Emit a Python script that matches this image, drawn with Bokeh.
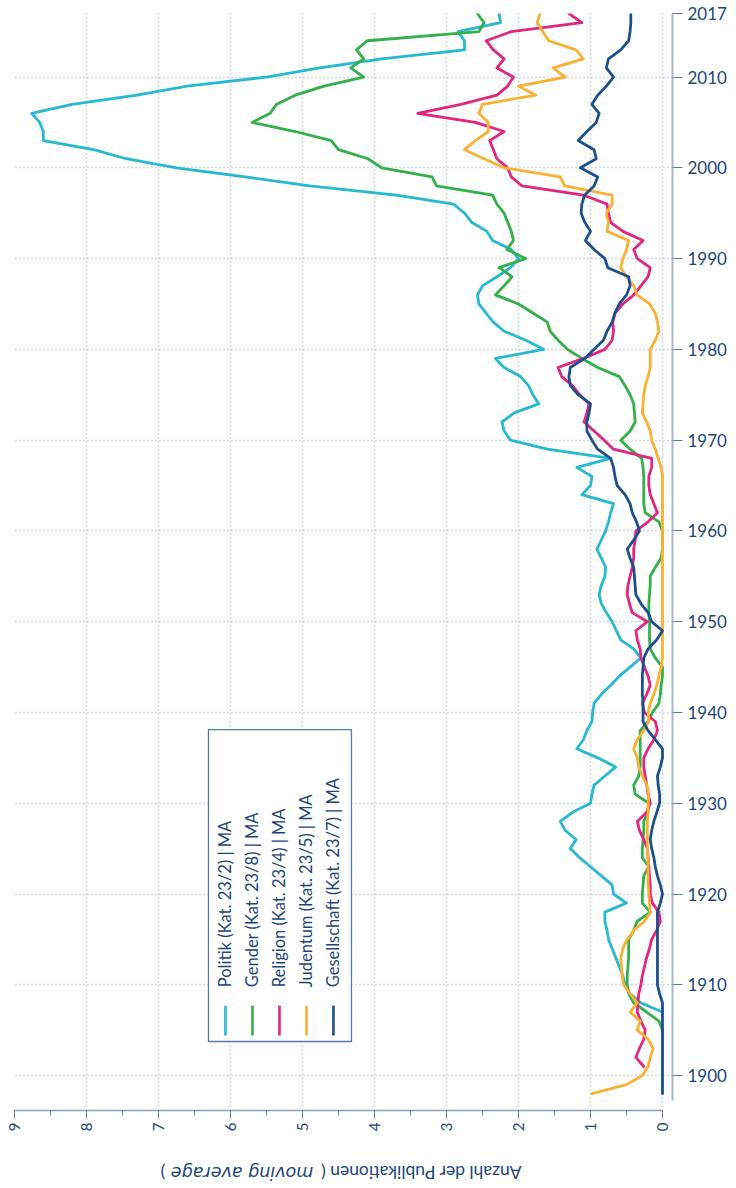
from math import pi
from bokeh.plotting import figure
from bokeh.layouts import column
from bokeh.models import Range1d, FixedTicker, SingleIntervalTicker, Label, ColumnDataSource
from bokeh.core.properties import value
from bokeh.embed import file_html
from bokeh.resources import INLINE

# ---------------- data (yearly moving averages) ----------------
series_names = [
    "Politik (Kat. 23/2) | MA",
    "Gender (Kat. 23/8) | MA",
    "Religion (Kat. 23/4) | MA",
    "Judentum (Kat. 23/5) | MA",
    "Gesellschaft (Kat. 23/7) | MA",
]
series_colors = ["#26b9d1", "#33b04a", "#e2267f", "#fbb034", "#1d4f8c"]
series_start = [1907, 1905, 1901, 1898, 1898]

politik = [
    0.0, 0.3, 0.45,
    0.52, 0.55, 0.6, 0.65, 0.7, 0.75, 0.77, 0.8, 0.8, 0.5,
    0.68, 0.7, 0.85, 1.0, 1.15, 1.28, 1.2, 1.35, 1.42, 1.25,
    1.0, 0.98, 0.95, 0.8, 0.65, 0.9, 1.19, 1.1, 1.05, 0.98,
    0.97, 0.95, 0.85, 0.72, 0.6, 0.45, 0.3, 0.4, 0.58, 0.64,
    0.7, 0.78, 0.85, 0.88, 0.85, 0.8, 0.79, 0.85, 0.91, 0.85,
    0.79, 0.75, 0.72, 0.68, 1.12, 1.0, 0.98, 1.19, 0.72, 1.6,
    2.11, 2.2, 2.23, 2.06, 1.72, 1.8, 1.86, 1.97, 2.2, 2.32,
    1.65, 1.9, 2.2, 2.35, 2.45, 2.55, 2.57, 2.5, 2.3, 2.11,
    2.0, 2.1, 2.36, 2.44, 2.65, 2.75, 2.9, 3.7, 4.9, 5.8,
    6.75, 7.45, 7.9, 8.6, 8.6, 8.65, 8.76, 8.2, 7.3, 6.6,
    5.5, 4.76, 3.9, 2.75, 2.75, 2.84, 2.25, 2.27,
]
gender = [
    0.0, 0.05, 0.22, 0.4, 0.47,
    0.49, 0.49, 0.48, 0.47, 0.47, 0.47, 0.4, 0.35, 0.17, 0.28,
    0.28, 0.27, 0.26, 0.19, 0.28, 0.28, 0.27, 0.26, 0.26, 0.2,
    0.19, 0.38, 0.4, 0.33, 0.31, 0.31, 0.31, 0.31, 0.31, 0.2,
    0.14, 0.05, 0.03, 0.02, 0.0, 0.0, 0.1, 0.17, 0.18, 0.18,
    0.18, 0.19, 0.19, 0.18, 0.17, 0.17, 0.1, 0.02, 0.0, 0.0,
    0.0, 0.05, 0.24, 0.26, 0.26, 0.26, 0.26, 0.27, 0.29, 0.45,
    0.58, 0.45, 0.38, 0.39, 0.4, 0.45, 0.52, 0.6, 0.9, 1.12,
    1.32, 1.45, 1.56, 1.6, 1.8, 2.0, 2.32, 2.2, 2.09, 2.27,
    1.9, 2.16, 2.07, 2.1, 2.15, 2.2, 2.3, 2.36, 3.14, 3.2,
    3.9, 4.09, 4.5, 4.6, 5.1, 5.7, 5.45, 5.36, 5.1, 4.7,
    4.15, 4.33, 4.15, 4.25, 4.1, 2.55, 2.48, 2.57,
]
religion = [
    0.26, 0.37, 0.32, 0.26, 0.24, 0.3, 0.35, 0.34, 0.33,
    0.3, 0.28, 0.25, 0.22, 0.18, 0.15, 0.08, 0.03, 0.05, 0.14,
    0.17, 0.17, 0.18, 0.19, 0.2, 0.21, 0.26, 0.32, 0.35, 0.22,
    0.17, 0.2, 0.22, 0.24, 0.26, 0.26, 0.2, 0.12, 0.07, 0.1,
    0.25, 0.28, 0.22, 0.17, 0.2, 0.25, 0.3, 0.31, 0.35, 0.37,
    0.21, 0.42, 0.46, 0.49, 0.48, 0.45, 0.42, 0.4, 0.4, 0.38,
    0.37, 0.2, 0.07, 0.12, 0.17, 0.19, 0.19, 0.15, 0.15, 0.68,
    0.81, 0.95, 1.09, 1.05, 1.02, 1.15, 1.25, 1.4, 1.45, 1.1,
    0.8, 0.7, 0.68, 0.69, 0.66, 0.55, 0.4, 0.3, 0.2, 0.17,
    0.35, 0.4, 0.27, 0.55, 0.72, 0.75, 0.77, 1.1, 1.95, 2.1,
    2.15, 2.3, 2.35, 2.4, 2.2, 2.6, 3.4, 2.8, 2.3, 2.15,
    2.07, 2.3, 2.2, 2.35, 2.45, 2.1, 1.12, 1.3,
]
judentum = [
    0.98, 0.5,
    0.28, 0.2, 0.17, 0.13, 0.2, 0.35, 0.31, 0.45, 0.35, 0.45,
    0.54, 0.56, 0.57, 0.58, 0.55, 0.49, 0.4, 0.25, 0.17, 0.18,
    0.19, 0.2, 0.2, 0.2, 0.2, 0.21, 0.21, 0.21, 0.21, 0.2,
    0.2, 0.19, 0.22, 0.28, 0.33, 0.35, 0.4, 0.35, 0.26, 0.19,
    0.2, 0.17, 0.12, 0.08, 0.05, 0.02, 0.0, 0.0, 0.0, 0.0,
    0.0, 0.0, 0.0, 0.0, 0.0, 0.0, 0.0, 0.0, 0.0, 0.0,
    0.0, 0.0, 0.0, 0.0, 0.0, 0.0, 0.0, 0.02, 0.06, 0.1,
    0.15, 0.17, 0.22, 0.28, 0.27, 0.26, 0.24, 0.2, 0.17, 0.17,
    0.17, 0.1, 0.05, 0.07, 0.1, 0.18, 0.35, 0.4, 0.5, 0.58,
    0.55, 0.5, 0.47, 0.77, 0.75, 0.78, 0.7, 0.7, 1.36, 1.42,
    2.2, 2.48, 2.75, 2.6, 2.42, 2.42, 2.55, 2.5, 1.76, 2.0,
    1.35, 1.52, 1.1, 1.2, 1.58, 1.66, 1.74, 1.7,
]
gesellschaft = [
    0.0, 0.0,
    0.0, 0.0, 0.0, 0.0, 0.0, 0.0, 0.0, 0.0, 0.0, 0.04,
    0.07, 0.07, 0.07, 0.07, 0.07, 0.07, 0.07, 0.07, 0.07, 0.03,
    0.0, 0.03, 0.07, 0.1, 0.12, 0.15, 0.17, 0.15, 0.12, 0.08,
    0.04, 0.04, 0.06, 0.07, 0.03, 0.0, 0.0, 0.1, 0.2, 0.27,
    0.27, 0.27, 0.28, 0.28, 0.28, 0.27, 0.26, 0.2, 0.08, 0.0,
    0.15, 0.2, 0.3, 0.37, 0.38, 0.39, 0.4, 0.45, 0.49, 0.4,
    0.32, 0.36, 0.42, 0.45, 0.52, 0.63, 0.66, 0.68, 0.72, 0.9,
    0.98, 1.05, 1.05, 1.02, 1.0, 1.17, 1.28, 1.3, 1.28, 1.08,
    0.95, 0.82, 0.77, 0.7, 0.66, 0.6, 0.5, 0.45, 0.47, 0.76,
    0.8, 0.95, 1.07, 1.0, 1.08, 1.13, 1.12, 1.08, 0.95, 0.9,
    1.14, 0.92, 0.95, 1.17, 1.05, 0.92, 0.88, 0.98, 0.9, 0.78,
    0.68, 0.78, 0.75, 0.58, 0.47, 0.45, 0.44, 0.44,
]
series_values = [politik, gender, religion, judentum, gesellschaft]

year_ticks = [1900, 1910, 1920, 1930, 1940, 1950, 1960, 1970, 1980, 1990, 2000, 2010, 2017]
axis_title_main = "Anzahl der Publikationen ("
axis_title_italic = "moving average"
axis_title_end = ")"

# ---------------- styling ----------------
FONT = "Lato"
TEXT_COLOR = "#1c4578"
AXIS_COLOR = "#8a9dbd"
TICK_COLOR = "#5f7dab"
GRID_COLOR = "#a7afc2"
X_RANGE = (9, -0.139)
BORDER_L, BORDER_R = 14, 64

p = figure(
    width=736, height=1145,
    x_range=Range1d(*X_RANGE), y_range=Range1d(1896.15, 2017),
    y_axis_location="right",
    output_backend="svg", toolbar_location=None,
    min_border_left=BORDER_L, min_border_right=BORDER_R,
    min_border_top=13, min_border_bottom=35,
)
p.outline_line_color = None
p.background_fill_color = "white"

# x axis (counts, bottom)
p.xaxis.ticker = SingleIntervalTicker(interval=1, num_minor_ticks=2)
p.xaxis.bounds = (0, 9)
p.xaxis.major_label_orientation = pi / 2
p.xaxis.major_label_text_font = FONT
p.xaxis.major_label_text_font_size = "15px"
p.xaxis.major_label_text_color = TEXT_COLOR
p.xaxis.major_label_standoff = 4
p.xaxis.axis_line_color = AXIS_COLOR
p.xaxis.axis_line_width = 1.5
p.xaxis.major_tick_line_color = TICK_COLOR
p.xaxis.minor_tick_line_color = TICK_COLOR
p.xaxis.major_tick_out = 8
p.xaxis.major_tick_in = 0
p.xaxis.minor_tick_out = 5
p.xaxis.minor_tick_in = 0

# y axis (years, right)
p.yaxis.ticker = FixedTicker(ticks=year_ticks, minor_ticks=[])
p.yaxis.bounds = (1897.3, 2017)
p.yaxis.major_label_text_font = FONT
p.yaxis.major_label_text_font_size = "17px"
p.yaxis.major_label_text_color = TEXT_COLOR
p.yaxis.major_label_standoff = 5
p.yaxis.axis_line_color = "#a9b7cd"
p.yaxis.axis_line_width = 2
p.yaxis.major_tick_line_color = TICK_COLOR
p.yaxis.major_tick_out = 10
p.yaxis.major_tick_in = 0

# grids (dotted)
p.xgrid.ticker = SingleIntervalTicker(interval=1)
p.ygrid.ticker = FixedTicker(ticks=year_ticks)
for g in (p.xgrid, p.ygrid):
    g.grid_line_color = GRID_COLOR
    g.grid_line_dash = "1 3"
    g.grid_line_width = 1.5

# lines
for name, color, start, vals in zip(series_names, series_colors, series_start, series_values):
    years = list(range(start, start + len(vals)))
    src = ColumnDataSource(dict(year=years, val=vals))
    p.line(x="val", y="year", source=src, line_color=color, line_width=2.8,
           line_join="round", line_cap="round")

# legend (rotated, drawn by hand)
leg_left, leg_right, leg_bottom, leg_top = 6.306, 4.32, 1903.75, 1938.1
p.quad(left=[leg_left], right=[leg_right], bottom=[leg_bottom], top=[leg_top],
       fill_color="white", line_color="#5b79a6", line_width=1.3)
leg_x = [6.07 - 0.375 * i for i in range(len(series_names))]
p.segment(x0=leg_x, y0=[1904.4] * 5, x1=leg_x, y1=[1907.7] * 5,
          line_color=series_colors, line_width=2.6)
p.text(x=leg_x, y=[1909.73] * 5, text=series_names, angle=pi / 2,
       text_align="left", text_baseline="middle",
       text_font=value(FONT), text_font_size="16.5px", text_color=TEXT_COLOR)

# axis title (upside down, with italic part) in a strip below the chart
t = figure(
    width=736, height=43,
    x_range=Range1d(*X_RANGE), y_range=Range1d(0, 43),
    x_axis_location=None, y_axis_location=None,
    output_backend="svg", toolbar_location=None,
    min_border_left=BORDER_L, min_border_right=BORDER_R,
    min_border_top=0, min_border_bottom=0,
)
t.outline_line_color = None
t.xgrid.visible = False
t.ygrid.visible = False
title_y = 16
t.add_layout(Label(x=1.958, y=title_y, text=axis_title_main, angle=pi,
                   text_align="left", text_baseline="middle",
                   text_font=FONT, text_font_size="17.5px", text_color=TEXT_COLOR))
t.add_layout(Label(x=5.84, y=title_y, text=axis_title_italic, angle=pi,
                   text_align="center", text_baseline="middle", text_font_style="italic",
                   text_font="DejaVu Sans", text_font_size="17.5px", text_color=TEXT_COLOR))
t.add_layout(Label(x=6.972, y=title_y, text=axis_title_end, angle=pi,
                   text_align="right", text_baseline="middle",
                   text_font=FONT, text_font_size="17.5px", text_color=TEXT_COLOR))

layout = column(p, t, spacing=0)
open("out.html", "w").write(file_html(layout, INLINE))
